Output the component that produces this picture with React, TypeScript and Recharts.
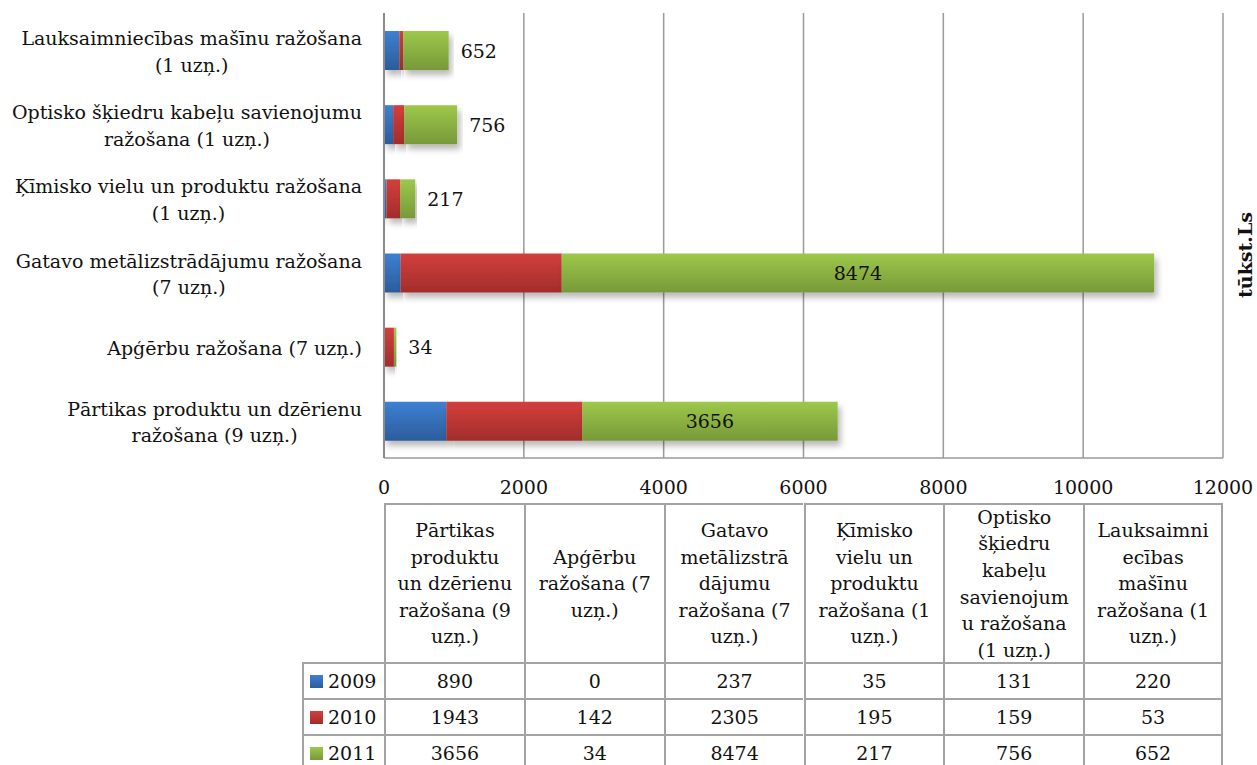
import React from 'react';
import { BarChart, Bar, XAxis, YAxis, CartesianGrid, LabelList } from 'recharts';

const categories = [
  'Pārtikas produktu un dzērienu ražošana (9 uzņ.)',
  'Apģērbu ražošana (7 uzņ.)',
  'Gatavo metālizstrādājumu ražošana (7 uzņ.)',
  'Ķīmisko vielu un produktu ražošana (1 uzņ.)',
  'Optisko šķiedru kabeļu savienojumu ražošana (1 uzņ.)',
  'Lauksaimniecības mašīnu ražošana (1 uzņ.)',
];
// how the axis labels break
const axisLabelLines = [
  ['Pārtikas produktu un dzērienu', 'ražošana (9 uzņ.)'],
  ['Apģērbu ražošana (7 uzņ.)'],
  ['Gatavo metālizstrādājumu ražošana', '(7 uzņ.)'],
  ['Ķīmisko vielu un produktu ražošana', '(1 uzņ.)'],
  ['Optisko šķiedru kabeļu savienojumu', 'ražošana (1 uzņ.)'],
  ['Lauksaimniecības mašīnu ražošana', '(1 uzņ.)'],
];
// how the data table header breaks
const tableHeaderLines = [
  ['Pārtikas', 'produktu', 'un dzērienu', 'ražošana (9', 'uzņ.)'],
  ['Apģērbu', 'ražošana (7', 'uzņ.)'],
  ['Gatavo', 'metālizstrā', 'dājumu', 'ražošana (7', 'uzņ.)'],
  ['Ķīmisko', 'vielu un', 'produktu', 'ražošana (1', 'uzņ.)'],
  ['Optisko', 'šķiedru', 'kabeļu', 'savienojum', 'u ražošana', '(1 uzņ.)'],
  ['Lauksaimni', 'ecības', 'mašīnu', 'ražošana (1', 'uzņ.)'],
];

const v2009 = [890, 0, 237, 35, 131, 220];
const v2010 = [1943, 142, 2305, 195, 159, 53];
const v2011 = [3656, 34, 8474, 217, 756, 652];
const xTicks = [0, 2000, 4000, 6000, 8000, 10000, 12000];

const series = [
  { key: 'y2009', name: '2009', values: v2009, top: '#3E80D2', bottom: '#2B5C9C' },
  { key: 'y2010', name: '2010', values: v2010, top: '#D33F3C', bottom: '#A22D2B' },
  { key: 'y2011', name: '2011', values: v2011, top: '#9DC84B', bottom: '#789939' },
];

const data = categories.map((name, i) => ({ name, idx: i, y2009: v2009[i], y2010: v2010[i], y2011: v2011[i] }));

const FONT = '"DejaVu Serif", serif';
const FS = 19;
const W = 1257, H = 765;
const PLOT_L = 384, PLOT_R = 1223, PLOT_T = 13, PLOT_B = 458;

let ctx: CanvasRenderingContext2D | null = null;
function textWidth(s: string) {
  if (!ctx) { ctx = document.createElement('canvas').getContext('2d'); }
  if (!ctx) return s.length * 10;
  ctx.font = `${FS}px ${FONT}`;
  return ctx.measureText(s).width;
}

const CategoryTick = ({ y, payload }: any) => {
  const lines = axisLabelLines[payload.index] || [String(payload.value)];
  const right = 362;
  const w = Math.max(...lines.map(textWidth));
  const cx = right - w / 2;
  const offs = lines.length === 1 ? [8] : [-5, 21.5];
  return (
    <g>
      {lines.map((l, i) => (
        <text key={i} x={cx} y={y + offs[i]} textAnchor="middle" fontFamily={FONT} fontSize={FS} fill="#111">{l}</text>
      ))}
    </g>
  );
};

const NumberTick = ({ x, payload }: any) => (
  <text x={x} y={494} textAnchor="middle" fontFamily={FONT} fontSize={FS} fill="#111">{payload.value}</text>
);

const ValueLabel = ({ x, y, width, height, value }: any) => {
  const tw = textWidth(String(value));
  const inside = width > tw + 20;
  const tx = inside ? x + width / 2 : x + width + 12;
  return (
    <text x={tx} y={y + height / 2 + 7} textAnchor={inside ? 'middle' : 'start'} fontFamily={FONT} fontSize={FS} fill="#111">{value}</text>
  );
};

const BORDER = '2px solid #A3A3A3';

function DataTable() {
  const colW = (PLOT_R - PLOT_L) / categories.length;
  const headTop = 503, headH = 159, rowH = 36;
  const cells: React.ReactNode[] = [];
  tableHeaderLines.forEach((lines, c) => {
    cells.push(
      <div key={`h${c}`} style={{ position: 'absolute', left: PLOT_L + c * colW, top: headTop, width: colW, height: headH, boxSizing: 'border-box', borderLeft: BORDER, borderTop: BORDER, borderRight: c === categories.length - 1 ? BORDER : undefined, display: 'flex', flexDirection: 'column', justifyContent: 'center', alignItems: 'center', lineHeight: '26.6px' }}>
        {lines.map((l, i) => <div key={i} style={{ whiteSpace: 'nowrap' }}>{l}</div>)}
      </div>
    );
  });
  series.forEach((s, r) => {
    const top = headTop + headH + r * rowH;
    cells.push(
      <div key={`k${r}`} style={{ position: 'absolute', left: 302, top, width: PLOT_L - 302, height: rowH, boxSizing: 'border-box', borderLeft: BORDER, borderTop: BORDER, display: 'flex', alignItems: 'center' }}>
        <div style={{ width: 13, height: 13, marginLeft: 6, marginRight: 5, background: `linear-gradient(${s.top}, ${s.bottom})` }} />
        <span>{s.name}</span>
      </div>
    );
    s.values.forEach((v, c) => {
      cells.push(
        <div key={`c${r}-${c}`} style={{ position: 'absolute', left: PLOT_L + c * colW, top, width: colW, height: rowH, boxSizing: 'border-box', borderLeft: BORDER, borderTop: BORDER, borderRight: c === categories.length - 1 ? BORDER : undefined, display: 'flex', alignItems: 'center', justifyContent: 'center' }}>
          {v}
        </div>
      );
    });
  });
  return <>{cells}</>;
}

export default function App() {
  return (
    <div style={{ position: 'absolute', left: 0, top: 0, width: W, height: H, overflow: 'hidden', background: '#fff', fontFamily: FONT, fontSize: FS, color: '#111' }}>
      <BarChart
        width={W}
        height={H}
        data={data}
        layout="vertical"
        barSize={39}
        margin={{ top: PLOT_T, right: W - PLOT_R, left: 0, bottom: H - PLOT_B - 40 }}
      >
        <defs>
          {series.map((s) => (
            <linearGradient key={s.key} id={`g-${s.key}`} x1="0" y1="0" x2="0" y2="1">
              <stop offset="0%" stopColor={s.top} />
              <stop offset="100%" stopColor={s.bottom} />
            </linearGradient>
          ))}
          <filter id="shadow" x="-5%" y="-30%" width="115%" height="190%">
            <feDropShadow dx="3" dy="5" stdDeviation="3" floodColor="#000" floodOpacity="0.28" />
          </filter>
        </defs>
        <CartesianGrid horizontal={false} stroke="#9A9A9A" strokeWidth={1.5} />
        <XAxis type="number" domain={[0, 12000]} ticks={xTicks} height={40} tick={<NumberTick />} tickLine={false} axisLine={{ stroke: '#9A9A9A', strokeWidth: 1.5 }} interval={0} />
        <YAxis type="category" dataKey="name" reversed width={PLOT_L} tick={<CategoryTick />} tickLine={false} axisLine={{ stroke: '#8A8A8A', strokeWidth: 2 }} interval={0} />
        {series.map((s) => (
          <Bar key={s.key} dataKey={s.key} name={s.name} stackId="a" fill={`url(#g-${s.key})`} isAnimationActive={false} style={{ filter: 'url(#shadow)' }}>
            {s.key === 'y2011' && <LabelList dataKey="y2011" content={<ValueLabel />} />}
          </Bar>
        ))}
      </BarChart>
      <DataTable />
      <div style={{ position: 'absolute', left: 1245, top: 255, transform: 'translate(-50%, -50%) rotate(-90deg)', fontWeight: 'bold', whiteSpace: 'nowrap' }}>tūkst.Ls</div>
    </div>
  );
}
